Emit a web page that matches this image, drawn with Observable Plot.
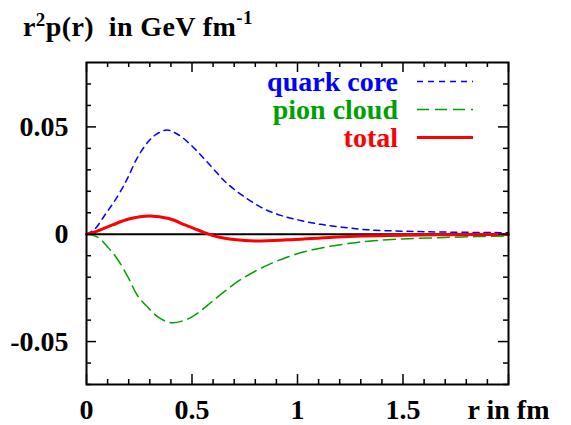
<!DOCTYPE html>
<html><head><meta charset="utf-8">
<script src="https://cdn.jsdelivr.net/npm/d3@7"></script>
<script src="https://cdn.jsdelivr.net/npm/@observablehq/plot@0.6"></script>
<style>
body{margin:0;background:#fff}
#wrap{position:relative;width:571px;height:425px;font-family:"Liberation Serif","Times New Roman",Times,"DejaVu Serif",serif;font-weight:bold}
#title{position:absolute;left:23px;top:13px;font-size:28px;line-height:28px;white-space:pre;color:#000;letter-spacing:0.4px}
.sup{font-size:19px;position:relative}
#legend{position:absolute;left:0;top:0}
</style></head><body>
<div id="wrap"><div id="chart"></div><div id="title">r<span class="sup" style="top:-10px">2</span>p(r)  in GeV fm<span class="sup" style="top:-12px">-1</span></div><svg id="legend" width="571" height="425"></svg></div>
<script>
// quark core (blue, short dashes)
const quarkR = [0, 0.04, 0.09, 0.13, 0.17, 0.20, 0.24, 0.29, 0.33, 0.38, 0.43, 0.50, 0.56, 0.62, 0.66, 0.73, 0.83, 0.92, 1.02, 1.11, 1.21, 1.33, 1.5, 1.7, 2.0];
const quarkV = [0, 0.0025, 0.0094, 0.0150, 0.0215, 0.0272, 0.0355, 0.0428, 0.0465, 0.0485, 0.0467, 0.0411, 0.0349, 0.0284, 0.0242, 0.0187, 0.0124, 0.0088, 0.0063, 0.0046, 0.0033, 0.0021, 0.0014, 0.0010, 0.0007];
// pion cloud (green, long dashes)
const pionR = [0, 0.05, 0.10, 0.15, 0.20, 0.24, 0.29, 0.34, 0.40, 0.47, 0.53, 0.59, 0.65, 0.73, 0.84, 0.95, 1.06, 1.18, 1.29, 1.38, 1.5, 1.67, 1.85, 2.0];
const pionV = [0, -0.0012, -0.0059, -0.0121, -0.0206, -0.0283, -0.0340, -0.0386, -0.0412, -0.0399, -0.0365, -0.0318, -0.0270, -0.0212, -0.0152, -0.0107, -0.0075, -0.0052, -0.0037, -0.0029, -0.0022, -0.0016, -0.0011, -0.0008];
// total (red, solid)
const totalR = [0, 0.04, 0.12, 0.20, 0.30, 0.39, 0.47, 0.55, 0.62, 0.70, 0.80, 0.95, 1.11, 1.27, 1.5, 1.75, 2.0];
const totalV = [0, 0.0011, 0.0042, 0.0071, 0.0085, 0.0073, 0.0042, 0.0011, -0.0012, -0.0025, -0.0031, -0.0026, -0.0017, -0.0009, -0.0005, -0.0002, -0.0001];

const seriesNames = ["quark core", "pion cloud", "total"];
const seriesColors = ["#0000ff", "#00a000", "#ff0000"];
const seriesDash = ["6,5", "12,6", null];
const seriesWidth = [1.5, 1.5, 3];

const xMajorTicks = [0, 0.5, 1, 1.5, 2];
const xMinorTicks = [0.1,0.2,0.3,0.4,0.6,0.7,0.8,0.9,1.1,1.2,1.3,1.4,1.6,1.7,1.8,1.9];
const yMajorTicks = [-0.05, 0, 0.05];
const yMinorTicks = [-0.07,-0.06,-0.04,-0.03,-0.02,-0.01,0.01,0.02,0.03,0.04,0.06,0.07];
const xAxisLabel = "r in fm";

const FONT = '"Liberation Serif", "Times New Roman", Times, "DejaVu Serif", serif';
const toRows = (R, V) => R.map((r, i) => ({r, v: V[i]}));
const seriesData = [toRows(quarkR, quarkV), toRows(pionR, pionV), toRows(totalR, totalV)];

const W = 571, H = 425, mL = 86, mR = 63, mT = 62, mB = 41;
const fw = W - mL - mR, fh = H - mT - mB;

const lineMarks = seriesData.map((d, i) => Plot.line(d, {
  x: "r", y: "v", stroke: seriesColors[i], strokeWidth: seriesWidth[i],
  strokeDasharray: seriesDash[i], curve: "catmull-rom"
}));

const chart = Plot.plot({
  width: W, height: H, marginLeft: mL, marginRight: mR, marginTop: mT, marginBottom: mB,
  style: {fontFamily: FONT, fontSize: "28px", fontWeight: "bold", background: "white", color: "black"},
  x: {domain: [0, 2]},
  y: {domain: [-0.07, 0.08]},
  marks: [
    Plot.ruleY([0], {stroke: "black", strokeWidth: 2}),
    ...lineMarks,
    Plot.tickX(xMinorTicks, {x: d => d, insetTop: fh - 5, strokeWidth: 1.5}),
    Plot.tickX(xMinorTicks, {x: d => d, insetBottom: fh - 5, strokeWidth: 1.5}),
    Plot.tickX(xMajorTicks, {x: d => d, insetTop: fh - 10, strokeWidth: 1.5}),
    Plot.tickX(xMajorTicks, {x: d => d, insetBottom: fh - 10, strokeWidth: 1.5}),
    Plot.tickY(yMinorTicks, {y: d => d, insetRight: fw - 5, strokeWidth: 1.5}),
    Plot.tickY(yMinorTicks, {y: d => d, insetLeft: fw - 5, strokeWidth: 1.5}),
    Plot.tickY(yMajorTicks, {y: d => d, insetRight: fw - 10, strokeWidth: 1.5}),
    Plot.tickY(yMajorTicks, {y: d => d, insetLeft: fw - 10, strokeWidth: 1.5}),
    Plot.axisX(xMajorTicks, {tickSize: 0, tickPadding: 15, label: null, fontSize: 28, fontFamily: FONT,
      tickFormat: d => d === 2 ? xAxisLabel : String(d)}),
    Plot.axisY(yMajorTicks, {tickSize: 0, tickPadding: 18, label: null, fontSize: 28, fontFamily: FONT,
      tickFormat: d => d === 0 ? "0" : d.toFixed(2)}),
    Plot.frame({strokeWidth: 2})
  ]
});
document.getElementById("chart").appendChild(chart);

const lg = d3.select("#legend");
seriesNames.forEach((n, i) => {
  const yb = 90.5 + 28 * i;
  lg.append("text").attr("x", 398).attr("y", yb).attr("text-anchor", "end")
    .attr("fill", seriesColors[i]).attr("font-size", 28).attr("font-weight", "bold")
    .attr("font-family", FONT).text(n);
  lg.append("line").attr("x1", 417).attr("x2", 473).attr("y1", yb - 9).attr("y2", yb - 9)
    .attr("stroke", seriesColors[i]).attr("stroke-width", seriesWidth[i])
    .attr("stroke-dasharray", seriesDash[i]);
});
</script>
</body></html>
